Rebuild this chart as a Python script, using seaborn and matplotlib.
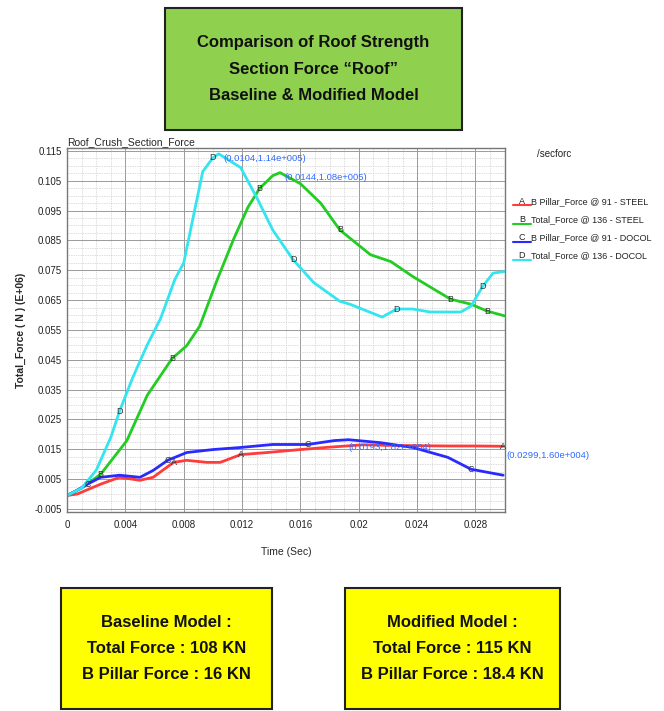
import pandas as pd
import seaborn as sns
import matplotlib.pyplot as plt
from matplotlib.patches import Rectangle
from matplotlib.ticker import MultipleLocator

# curves (time in s, force in E+06 N)
a_time = [0.0, 0.0007, 0.0023, 0.0036, 0.005, 0.0059, 0.0073, 0.0082, 0.0096, 0.0105,
          0.0119, 0.0137, 0.016, 0.018, 0.0203, 0.022, 0.024, 0.026, 0.028, 0.0299]
a_force = [-0.0005, 0.0, 0.0033, 0.0056, 0.0046, 0.0056, 0.0106, 0.0113, 0.0106, 0.0106,
           0.0132, 0.0139, 0.0149, 0.0157, 0.0165, 0.0163, 0.0162, 0.0161, 0.0161, 0.016]

b_time = [0.0, 0.001, 0.0023, 0.0041, 0.0055, 0.0072, 0.0082, 0.0091, 0.0103, 0.0114,
          0.0124, 0.0132, 0.0141, 0.0146, 0.016, 0.0174, 0.0187, 0.0208, 0.0222, 0.0237,
          0.0254, 0.0263, 0.0277, 0.0288, 0.03]
b_force = [-0.0005, 0.002, 0.0066, 0.0179, 0.0331, 0.0454, 0.0497, 0.0563, 0.0719, 0.0852,
           0.0961, 0.1024, 0.1067, 0.1077, 0.104, 0.0974, 0.0885, 0.0802, 0.0779, 0.0729,
           0.0679, 0.0653, 0.0636, 0.0613, 0.0597]

c_time = [0.0, 0.0007, 0.0014, 0.0023, 0.0036, 0.005, 0.0059, 0.0069, 0.0082, 0.01,
          0.0119, 0.0141, 0.0165, 0.0183, 0.0193, 0.0215, 0.0237, 0.0261, 0.0277, 0.0299]
c_force = [-0.0005, 0.0013, 0.0033, 0.0056, 0.0063, 0.0056, 0.0079, 0.0113, 0.0139, 0.0149,
           0.0156, 0.0166, 0.0166, 0.0179, 0.0182, 0.0172, 0.0156, 0.0123, 0.0083, 0.0063]

d_time = [0.0, 0.001, 0.002, 0.003, 0.0036, 0.0045, 0.0055, 0.0064, 0.0074, 0.008, 0.0087,
          0.0093, 0.01, 0.0104, 0.0119, 0.013, 0.0141, 0.0155, 0.0169, 0.0187, 0.0194,
          0.0216, 0.0226, 0.0237, 0.0249, 0.027, 0.0277, 0.0285, 0.0292, 0.03]
d_force = [-0.0005, 0.002, 0.008, 0.019, 0.0278, 0.039, 0.05, 0.0587, 0.072, 0.0775, 0.094,
           0.108, 0.1127, 0.114, 0.1094, 0.0994, 0.0885, 0.0785, 0.0709, 0.0646, 0.0636,
           0.0593, 0.062, 0.062, 0.061, 0.061, 0.063, 0.0696, 0.074, 0.0746]

series_names = ["B Pillar_Force @ 91 - STEEL", "Total_Force @ 136 - STEEL",
                "B Pillar_Force @ 91 - DOCOL", "Total_Force @ 136 - DOCOL"]
series_letters = ["A", "B", "C", "D"]
series_colors = ["#ff3b3b", "#22cc22", "#2a2aff", "#33e5ee"]

x_ticks = [0, 0.004, 0.008, 0.012, 0.016, 0.02, 0.024, 0.028]
x_tick_labels = ["0", "0.004", "0.008", "0.012", "0.016", "0.02", "0.024", "0.028"]
y_ticks = [-0.005, 0.005, 0.015, 0.025, 0.035, 0.045, 0.055, 0.065, 0.075, 0.085, 0.095, 0.105, 0.115]

boxes = [
    ("Comparison of Roof Strength\nSection Force \u201cRoof\u201d\nBaseline & Modified Model", "#8fd14f"),
    ("Baseline Model :\nTotal Force : 108 KN\nB Pillar Force : 16 KN", "#ffff00"),
    ("Modified Model :\nTotal Force : 115 KN\nB Pillar Force : 18.4 KN", "#ffff00"),
]

curves = [(a_time, a_force), (b_time, b_force), (c_time, c_force), (d_time, d_force)]
frames = []
for name, (t, f) in zip(series_names, curves):
    frames.append(pd.DataFrame({"time": t, "force": f, "series": name}))
df = pd.concat(frames, ignore_index=True)

sns.set_style("white")
plt.rcParams["font.family"] = ["Liberation Sans", "DejaVu Sans"]

fig = plt.figure(figsize=(6.64, 7.11), dpi=100)
ax = fig.add_axes([0.101, 0.28, 0.659, 0.512])

sns.lineplot(data=df, x="time", y="force", hue="series", palette=series_colors,
             hue_order=series_names, lw=2.0, legend=False, ax=ax, sort=False)

ax.set_xlim(0, 0.030)
ax.set_ylim(-0.006, 0.116)
ax.set_xticks(x_ticks)
ax.set_xticklabels(x_tick_labels)
ax.set_yticks(y_ticks)
ax.set_yticklabels([f"{v:.3f}" for v in y_ticks])
ax.xaxis.set_minor_locator(MultipleLocator(0.001))
ax.yaxis.set_minor_locator(MultipleLocator(0.0025))
ax.grid(which="major", color="#9a9a9a", lw=0.7)
ax.grid(which="minor", color="#bbbbbb", lw=0.5, ls=(0, (1, 1.5)))
ax.tick_params(which="both", direction="in", length=3, labelsize=7, colors="#222222")
ax.tick_params(axis="x", pad=6)
for s in ax.spines.values():
    s.set_color("#777777")
    s.set_linewidth(1.0)
ax.set_xlabel("Time (Sec)", fontsize=7.5, labelpad=12)
ax.set_ylabel("Total_Force ( N ) (E+06)", fontsize=7.5, fontweight="bold", labelpad=6)
ax.set_title("Roof_Crush_Section_Force", fontsize=7.5, loc="left", pad=2)

# letter tags along the curves
tag_idx = [[6, 10, 19], [2, 5, 11, 16, 21, 23], [2, 7, 12, 18], [4, 12, 17, 22, 27]]
for (t, f), letter, idxs in zip(curves, series_letters, tag_idx):
    for i in idxs:
        ax.text(t[i], f[i], letter, fontsize=6.5, color="#333333", ha="center", va="center")

# peak annotations
ann = [(d_time[13], d_force[13], "(0.0104,1.14e+005)", 0.0003, -0.0015),
       (b_time[13], b_force[13], "(0.0144,1.08e+005)", 0.0003, -0.0015),
       (c_time[14], c_force[14], "(0.0193,1.82e+004)", 0.0, -0.0025),
       (a_time[19], a_force[19], "(0.0299,1.60e+004)", 0.0002, -0.003)]
for x, y, txt, dx, dy in ann:
    ax.text(x + dx, y + dy, txt, fontsize=6.8, color="#2f6bff", ha="left", va="center", clip_on=False)

# side legend
fig.text(0.808, 0.779, "/secforc", fontsize=7, color="#222222")
for k, (name, letter, col) in enumerate(zip(series_names, series_letters, series_colors)):
    yy = 0.717 - k * 0.0255
    fig.add_artist(plt.Line2D([0.772, 0.800], [yy - 0.006, yy - 0.006], color=col, lw=1.5))
    fig.text(0.786, yy, letter, fontsize=6.5, color="#222222", va="center", ha="center")
    fig.text(0.800, yy, name, fontsize=6.5, color="#222222", va="center")

# text boxes
box_pos = [(165, 8, 297, 122), (61, 588, 211, 121), (345, 588, 215, 121)]
for (txt, col), (x0, y0, w, h) in zip(boxes, box_pos):
    fx, fy = x0 / 664, 1 - (y0 + h) / 711
    fig.add_artist(Rectangle((fx, fy), w / 664, h / 711, transform=fig.transFigure,
                             facecolor=col, edgecolor="#222222", lw=1.5))
    fig.text(fx + w / 1328, fy + h / 1422, txt, ha="center", va="center", fontsize=12,
             fontweight="bold", linespacing=1.95, color="#111111")

fig.savefig("out.png", dpi=100)
